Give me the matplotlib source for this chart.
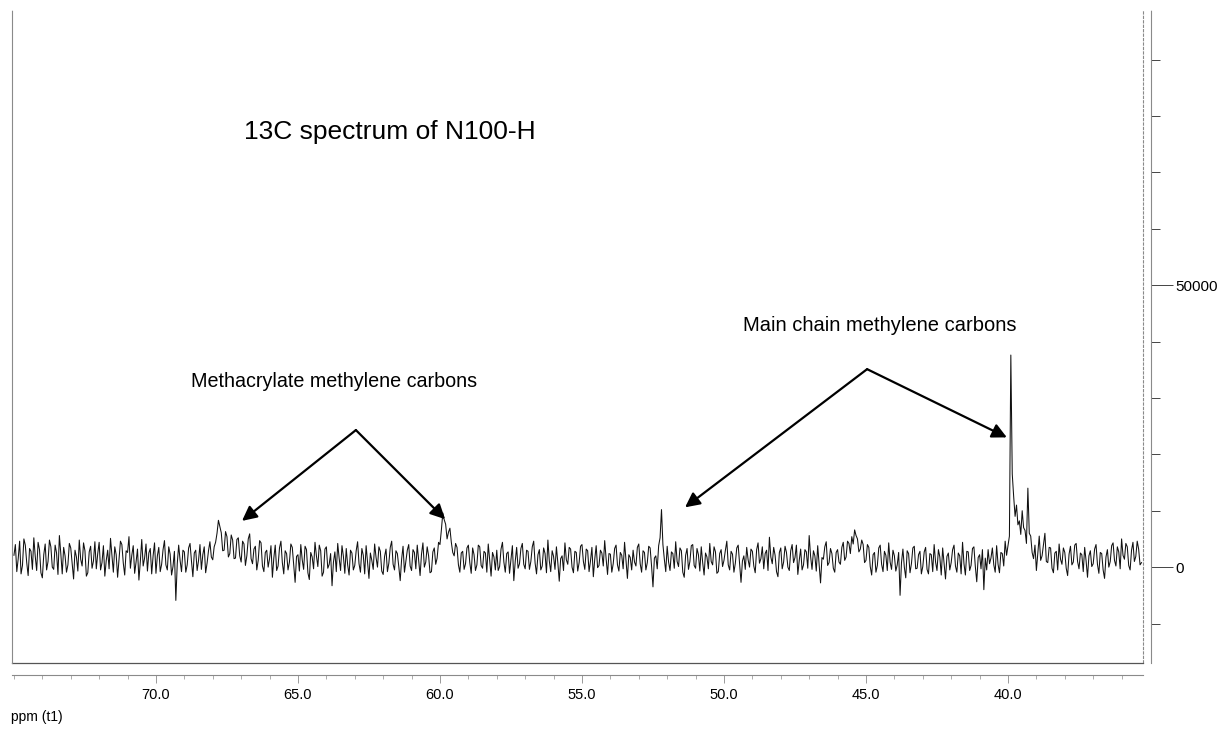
import numpy as np
import matplotlib
matplotlib.use('Agg')
import matplotlib.pyplot as plt
from matplotlib.ticker import MultipleLocator, FixedLocator, FormatStrFormatter

plt.rcParams['font.family'] = ['Liberation Sans', 'DejaVu Sans']

# ── data: 13C spectrum (ppm 75.00 -> 35.30, step 0.05), intensity in thousands ──
PPM_START = 75.0
PPM_STEP = 0.05
intensity_k = [
    2.1, 4.0, -0.8, 1.5, 4.6, -1.2, 0.3, 5.0, 3.9, 0.8, -1.5, 3.3, 2.8, -0.4, 5.2, 1.9, -0.6, 4.4, 3.1, -1.0,   # 75
    -1.9, 2.2, 4.1, -0.5, 1.0, 4.8, 3.6, 0.0, -0.4, 3.9, 2.5, -1.3, 5.6, 2.4, -1.2, 3.5, 2.0, -0.9, 0.4, 4.2,   # 74
    3.4, 0.6, -2.1, 3.0, 1.8, -0.7, 4.8, 1.4, 0.2, 4.3, 2.9, -1.6, -1.0, 2.7, 3.7, -0.2, 1.1, 4.5, -0.3, 2.4,   # 73
    4.4, -0.5, 0.8, 3.8, -1.6, 1.2, 3.0, -0.3, 5.1, 2.0, -0.9, 3.6, 2.2, -1.8, 1.5, 4.6, 4.0, 0.7, -1.4, 2.9,   # 72
    2.6, 5.4, -0.2, 2.1, 3.8, -1.1, 0.9, 3.2, -2.3, 1.0, 4.9, 0.2, 1.6, 4.1, -0.7, 2.5, 3.3, -1.2, 2.0, 4.3,    # 71
    -1.1, 2.0, 3.5, -0.8, 0.5, 3.1, 4.7, 0.4, -0.5, 3.6, 2.3, -1.4, 0.1, 2.8, -5.9, 0.6, 3.9, 1.2, -0.8, 3.0,   # 70
    2.7, -0.9, 0.4, 3.4, 4.2, 1.1, -1.7, 2.5, 3.0, -0.6, 1.2, 4.0, -0.4, 2.2, 3.6, -1.0, 0.7, 2.9, 4.5, 1.8,   # 69
    1.3, 3.6, 4.4, 6.0, 8.3, 7.2, 6.1, 2.9, 3.0, 6.3, 5.4, 1.8, 2.4, 5.7, 4.8, 1.5, 1.6, 4.9, 5.2, 2.0,        # 68
    0.9, 4.6, 4.1, 0.3, 2.0, 5.0, 5.9, 1.5, 0.6, 3.2, 3.7, -0.5, 1.2, 4.7, 4.3, 0.2, -0.8, 2.6, 3.0, 0.0,      # 67
    1.5, 3.8, -1.8, 1.6, 3.9, -0.6, 0.2, 3.4, 4.6, 0.8, -1.2, 2.9, 2.4, -0.5, 0.9, 4.1, 3.5, 0.3, -2.7, 1.9,   # 66
    2.2, -0.7, 4.0, 1.3, -0.4, 3.7, 3.1, -1.0, -2.2, 2.6, 1.8, -0.3, 4.4, 2.0, 0.1, 3.9, 2.9, -1.6, -0.9, 3.2,  # 65
    3.6, -0.2, 0.5, 2.4, -3.3, 0.9, 2.7, -0.8, 4.2, 1.6, -0.6, 3.8, 1.9, -1.1, 3.3, 0.4, -1.4, 3.0, 2.5, -0.5,  # 64
    0.3, 2.9, 4.5, 0.6, -0.9, 3.3, 2.1, -1.2, 3.8, 0.9, -2.0, 2.5, 1.2, -0.4, 4.1, 1.7, 0.0, 3.6, 2.8, -0.7,   # 63
    -1.3, 1.9, 3.2, -0.8, 0.7, 3.5, 4.6, 0.5, -0.5, 2.9, 2.4, 0.1, -2.4, 1.4, 3.7, -0.9, 1.0, 3.0, 4.0, 0.2,   # 62
    -0.6, 3.1, 2.6, -0.3, 3.9, 1.1, -1.5, 2.3, 4.3, 0.0, 0.9, 3.6, 2.0, -1.0, -0.8, 2.7, 3.4, 0.5, 1.6, 4.4,   # 61
    4.0, 6.6, 9.6, 8.4, 7.6, 5.0, 6.2, 6.9, 4.4, 2.6, 2.0, 4.2, 3.5, 0.4, -0.9, 2.5, 2.8, -0.4, 0.6, 3.4,      # 60
    3.9, 0.8, -1.1, 3.4, 2.2, -0.6, 0.4, 3.9, 3.6, 0.3, -0.2, 2.8, 2.5, -0.9, 4.1, 1.2, -1.6, 2.6, 1.8, -0.5,  # 59
    3.0, -0.6, 0.1, 3.2, 4.4, 0.9, -0.9, 2.4, 2.7, -1.1, 1.3, 3.8, -2.4, 1.0, 3.5, -0.2, 0.6, 3.3, 4.2, 0.5,   # 58
    -0.3, 3.0, 2.8, -0.4, 1.0, 3.6, 4.6, 0.7, -1.2, 2.2, 3.1, -0.5, 0.2, 3.4, 2.4, -1.0, 4.8, 1.1, -0.8, 2.9,  # 57
    1.9, -0.4, 3.6, 0.8, -2.5, 1.5, 2.0, -0.6, 4.3, 1.3, 0.5, 3.5, 3.2, 0.0, -1.0, 2.8, 2.6, -0.7, 0.8, 3.7,   # 56
    4.0, 1.0, -0.4, 3.2, 2.9, -0.8, 1.1, 3.5, -1.7, 1.4, 3.8, -0.1, 0.3, 3.0, 2.5, 0.2, 4.7, 1.5, -1.3, 2.4,   # 55
    2.3, -0.9, 0.6, 3.3, 3.9, 0.4, -0.7, 2.6, 2.1, -0.3, 4.4, 1.2, -2.0, 2.2, 1.7, -0.5, 3.0, 0.9, 0.2, 3.5,   # 54
    4.1, 0.6, -0.9, 2.9, 2.6, -0.5, 0.8, 3.7, 3.4, 0.2, -3.5, 1.6, 2.0, -0.3, 3.8, 5.2, 10.2, 4.0, 1.4, -0.8,  # 53
    3.7, 0.9, -0.6, 2.7, 2.4, -0.2, 4.5, 1.0, 0.1, 3.4, 2.9, -0.9, -1.8, 2.1, 3.3, -0.4, 1.0, 3.8, 4.0, 0.3,   # 52
    -0.2, 3.3, 2.2, -0.7, 3.6, 0.8, -1.4, 2.5, 1.8, -0.3, 4.2, 1.0, 0.4, 3.6, 2.7, -1.1, -0.8, 2.4, 3.1, 0.1,  # 51
    1.2, 3.0, 4.6, 0.4, -0.5, 2.8, 2.3, -0.9, 0.7, 3.4, 3.9, 0.6, -2.7, 1.1, 2.0, -0.4, 3.5, 1.3, 0.0, 3.2,    # 50
    2.8, 0.2, -1.0, 3.1, 4.3, 0.7, 1.5, 3.6, -0.3, 2.4, 3.0, -0.6, 5.3, 1.8, 0.6, 3.5, 2.1, -0.8, -1.7, 2.6,   # 49
    3.4, -0.3, 0.9, 3.7, 2.6, 0.0, -0.6, 2.9, 4.0, 0.8, 1.7, 3.9, -1.3, 1.2, 3.2, -0.5, 0.4, 3.1, 2.7, -0.2,   # 48
    5.6, 1.9, -0.4, 2.9, 2.0, -0.7, 3.8, 0.6, -2.8, 1.7, 1.4, 3.6, 4.5, 0.3, 0.8, 3.3, 2.4, -0.2, -0.9, 2.6,   # 47
    3.1, 0.9, 0.5, 3.5, 4.4, 1.2, 1.8, 4.6, 4.2, 2.4, 5.4, 4.1, 6.6, 5.6, 5.0, 2.7, 3.2, 4.8, 4.0, 0.8,        # 46
    1.2, 4.0, 3.5, 0.1, -1.4, 2.2, 2.6, -0.9, 0.3, 3.4, 3.9, 0.5, -0.8, 2.8, 2.1, -0.6, 4.3, 0.9, -0.4, 3.0,   # 45
    2.0, -0.7, 0.4, 2.6, -5.0, 0.8, 3.2, 0.0, -1.9, 2.9, 2.4, -1.0, 0.6, 3.4, 3.7, -0.3, -0.2, 2.2, 2.8, -1.2, # 44
    0.1, 2.7, 3.5, -0.4, -1.2, 2.4, 2.2, -0.8, 4.0, 0.9, -0.6, 3.1, 1.8, -1.4, 3.4, 0.6, -2.1, 1.9, 2.5, -0.5, # 43
    0.8, 3.1, 3.9, 0.2, -0.9, 2.5, 2.0, -1.2, 4.4, 0.6, -1.4, 2.8, 2.7, -0.6, 0.3, 3.3, 3.6, 0.1, -2.6, 1.7,   # 42
    2.2, -0.3, 3.1, -4.0, 1.6, -0.5, 3.1, 0.6, 1.6, 3.4, 0.4, -0.9, 3.8, 0.5, -1.0, 2.6, 2.4, 0.2, 4.6, 2.1,   # 41
    3.8, 5.5, 37.6, 16.5, 12.5, 9.0, 11.0, 7.5, 8.2, 5.8, 10.0, 7.0, 6.5, 4.2, 14.0, 6.0, 5.5, 2.6, 1.5, 3.9,  # 40
    -0.6, 2.4, 5.5, 1.2, 2.0, 4.0, 6.0, 1.0, 0.8, 3.5, 3.4, -0.2, -1.0, 2.5, 2.8, -0.5, 4.1, 1.4, 0.5, 3.4,   # 39
    2.6, -0.2, -1.5, 2.3, 3.7, 0.4, 0.9, 3.9, 4.2, 1.0, -0.3, 2.5, 2.2, -0.8, 3.5, 1.1, -1.8, 2.0, 2.9, 0.1,   # 38
    0.6, 3.2, 4.0, 0.5, -1.1, 2.6, 2.4, -0.5, -2.0, 1.8, 3.1, 0.0, 1.0, 3.8, 4.3, 1.2, 0.2, 3.6, 2.7, -0.3,   # 37
    5.0, 2.1, 1.4, 4.2, 3.6, 0.3, -0.5, 3.0, 4.4, 1.0, 1.9, 4.6, 3.2, 0.4, 0.8,                               # 36
]
ppm = PPM_START - PPM_STEP * np.arange(len(intensity_k))
intensity = np.array(intensity_k) * 1000

XTICKS = [70.0, 65.0, 60.0, 55.0, 50.0, 45.0, 40.0]
XLIM = (75.07, 35.25)
YLIM = (-17000, 98800)

TITLE = '13C spectrum of N100-H'
LABEL_METH = 'Methacrylate methylene carbons'
LABEL_MAIN = 'Main chain methylene carbons'

# ── figure ─────────────────────────────────────────────────────
fig = plt.figure(figsize=(12.2, 7.33), dpi=100)
ax = fig.add_axes([0.0098, 0.0955, 0.927, 0.891])

ax.plot(ppm, intensity, color='#111111', linewidth=0.75)
ax.set_xlim(*XLIM)
ax.set_ylim(*YLIM)

frame_col = '#8a8a8a'
ax.spines['top'].set_visible(False)
ax.spines['left'].set_color(frame_col)
ax.spines['left'].set_linewidth(0.8)
ax.spines['left'].set_linestyle((0, (3, 1)))
ax.spines['bottom'].set_position(('outward', 9))
ax.spines['bottom'].set_color(frame_col)
ax.spines['bottom'].set_linewidth(0.8)
ax.spines['right'].set_position(('outward', 6))
ax.spines['right'].set_color(frame_col)
ax.spines['right'].set_linewidth(0.8)
ax.spines['right'].set_linestyle((0, (3, 1)))

# inner frame lines (right and bottom edge of plot box)
ax.plot([1, 1], [0, 1], transform=ax.transAxes, color=frame_col, lw=0.8,
        ls=(0, (3, 1)), clip_on=False)
ax.plot([0, 1], [0, 0], transform=ax.transAxes, color='#555555', lw=0.9, clip_on=False)

# x axis
ax.xaxis.set_major_locator(FixedLocator(XTICKS))
ax.xaxis.set_minor_locator(MultipleLocator(1))
ax.xaxis.set_major_formatter(FormatStrFormatter('%.1f'))
ax.tick_params(axis='x', which='major', direction='out', length=6, width=0.6,
               color=frame_col, pad=3, labelsize=10.5)
ax.tick_params(axis='x', which='minor', direction='out', length=3, width=0.5,
               color=frame_col)
for lbl in ax.get_xticklabels():
    lbl.set_family(['Liberation Sans Narrow', 'Liberation Sans'])

# y axis on the right
ax.yaxis.tick_right()
ax.yaxis.set_major_locator(MultipleLocator(50000))
ax.yaxis.set_minor_locator(MultipleLocator(10000))
ax.tick_params(axis='y', which='major', direction='out', length=15.5, width=0.7,
               color='#444444', pad=2, labelsize=11)
ax.tick_params(axis='y', which='minor', direction='out', length=6.5, width=0.7,
               color='#444444')
ax.tick_params(axis='y', left=False, labelleft=False)

# ── text and arrows ────────────────────────────────────────────
ax.text(61.76, 77100, TITLE, ha='center', va='center', fontsize=19)
ax.text(63.73, 33000, LABEL_METH, ha='center', va='center', fontsize=14.2)
ax.text(44.5, 42900, LABEL_MAIN, ha='center', va='center', fontsize=14.5)

arrow = dict(arrowstyle='-|>', color='black', lw=1.6, mutation_scale=22,
             shrinkA=0, shrinkB=0)
ax.annotate('', xy=(66.97, 8200), xytext=(62.96, 24300), arrowprops=arrow)
ax.annotate('', xy=(59.82, 8500), xytext=(62.96, 24300), arrowprops=arrow)
ax.annotate('', xy=(51.37, 10600), xytext=(44.96, 35100), arrowprops=arrow)
ax.annotate('', xy=(40.04, 23000), xytext=(44.96, 35100), arrowprops=arrow)

fig.text(0.009, 0.022, 'ppm (t1)', fontsize=10, ha='left', va='center',
         family=['Liberation Sans Narrow', 'Liberation Sans'])

plt.savefig('out.png', dpi=100)
